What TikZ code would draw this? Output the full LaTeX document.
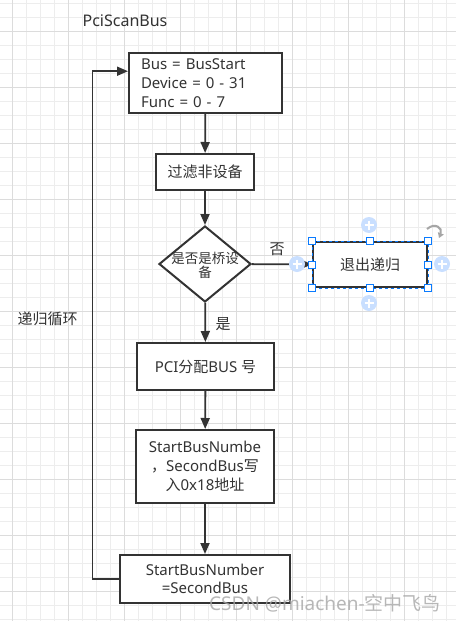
\documentclass[tikz,border=0pt]{standalone}
\usepackage{fontspec}
\setmainfont{Noto Sans}
\newfontfamily\cjk{Noto Sans CJK SC}
\usetikzlibrary{shapes.geometric,arrows.meta,calc}
\definecolor{ln}{HTML}{333333}
\definecolor{sel}{HTML}{0A7BFF}
\definecolor{plusc}{HTML}{C9DFFF}
\definecolor{gridminor}{HTML}{EDEDED}
\definecolor{gridmajor}{HTML}{DCDCDC}
\begin{document}
\begin{tikzpicture}[x=1pt,y=-1pt,
  every node/.style={text=ln},
  box/.style={draw=ln,line width=2pt,fill=white,align=center,
    font=\fontsize{15}{19}\selectfont,inner sep=0pt},
  arr/.style={draw=ln,line width=1.8pt,-{Triangle[length=11pt,width=9pt]}},
  lbl/.style={font=\fontsize{15}{19}\selectfont,inner sep=0pt},
  handle/.style={draw=sel,fill=white,line width=1pt,minimum size=7pt,inner sep=0pt},
  plusdot/.style={circle,fill=plusc,minimum size=16pt,inner sep=0pt}]
\useasboundingbox (0,0) rectangle (456,621);
\fill[white] (0,0) rectangle (456,621);
% background grid
\foreach \i in {0,...,33} {
  \draw[gridminor,line width=0.8pt] ({12.3+14*(\i-1)},0) -- ({12.3+14*(\i-1)},621);
}
\foreach \i in {0,...,45} {
  \draw[gridminor,line width=0.8pt] (0,{3+14*\i}) -- (456,{3+14*\i});
}
\foreach \i in {0,...,8} {
  \draw[gridmajor,line width=0.8pt] ({12.3+56*\i},0) -- ({12.3+56*\i},621);
}
\foreach \i in {0,...,11} {
  \draw[gridmajor,line width=0.8pt] (0,{31+56*\i}) -- (456,{31+56*\i});
}

% title
\node[lbl,font=\fontsize{16}{19}\selectfont] (title) at (125,21) {PciScanBus};

% boxes
\node[box,align=left,text width=129pt,inner xsep=12pt,minimum height=60pt] (b1) at (205.5,83)
  {Bus = BusStart\\Device = 0 - 31\\Func = 0 - 7};
\node[box,minimum width=98pt,minimum height=36pt] (b2) at (205,172) {\cjk 过滤非设备};
\node[diamond,draw=ln,line width=2pt,fill=white,minimum width=92pt,minimum height=76pt,inner sep=0pt] (dia) at (205,264) {};
\node[align=center,font=\fontsize{13.5}{14}\selectfont,inner sep=0pt] (diat) at (205,265) {\cjk 是否是桥设\\\cjk 备};
\node[box,minimum width=114pt,minimum height=45pt] (ex) at (370,264.5) {\cjk 退出递归};
\node[box,minimum width=137pt,minimum height=47pt] (b3) at (205.5,366.5) {PCI{\cjk 分配}BUS {\cjk 号}};
\node[box,minimum width=138pt,minimum height=73pt] (b4) at (205,466.5)
  {StartBusNumbe\\{\cjk ，}SecondBus{\cjk 写}\\{\cjk 入}0x18{\cjk 地址}};
\node[box,minimum width=170pt,minimum height=48pt,font=\fontsize{15}{18.5}\selectfont] (b5) at (205,579)
  {StartBusNumber\\=SecondBus};

% connectors
\draw[arr] (b1) -- (b2);
\draw[arr] (b2) -- (dia);
\draw[arr] (dia) -- (ex);
\draw[arr] (dia) -- (b3);
\draw[arr] (b3) -- (b4);
\draw[arr] (b4) -- (b5);
\coordinate (lc) at (92.5,579);
\coordinate (le) at ($(b1.north west)!0.31!(b1.south west)$);
\draw[arr] (b5.west) -- (lc) |- (le);

% labels
\node[lbl] (no) at (277,249) {\cjk 否};
\node[lbl] (yes) at (223,324) {\cjk 是};
\node[lbl] (loop) at (47.5,319) {\cjk 递归循环};

% selection decorations on exit box
\draw[sel,line width=1pt,dash pattern=on 3pt off 3pt] (ex.north west) rectangle (ex.south east);
\foreach \a [count=\k] in {north west,north,north east,east,south east,south,south west,west}
  \node[handle] (h\k) at (ex.\a) {};
\foreach \p [count=\k] in {(369,225),(369,303),(442,264),(297,264)} {
  \node[plusdot] (p\k) at \p {};
  \draw[white,line width=1.6pt] ($(p\k)+(-4.5,0)$) -- ($(p\k)+(4.5,0)$);
  \draw[white,line width=1.6pt] ($(p\k)+(0,-4.5)$) -- ($(p\k)+(0,4.5)$);
}
\draw[gray!70,line width=2pt,-{Triangle[length=5pt,width=6pt]}]
  (427,229) .. controls (435,222) and (443,228) .. (439,238);

% watermark
\node[inner sep=0pt,text=gray!70,opacity=0.8,font=\fontsize{19}{20}\selectfont] (wm) at (325,603)
  {CSDN @miachen-{\cjk 空中飞鸟}};
\end{tikzpicture}
\end{document}
